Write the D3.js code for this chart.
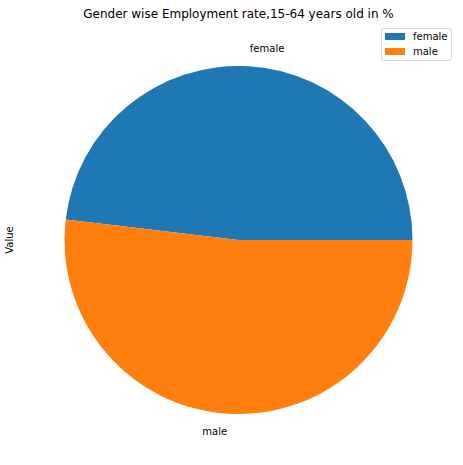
<!DOCTYPE html>
<html><head><meta charset="utf-8">
<script src="https://cdn.jsdelivr.net/npm/d3@7"></script>
<style>body{margin:0;background:#fff;} text{font-family:"DejaVu Sans",sans-serif;fill:#000;}</style>
</head><body>
<svg id="c" width="463" height="465"></svg>
<script>
const categories = ["female", "male"];
const values = [62.4, 67.3];
const colors = ["#1f77b4", "#ff7f0e"];
const title = "Gender wise Employment rate,15-64 years old in %";
const yLabel = "Value";

const svg = d3.select("#c");
const cx = 238.5, cy = 240, r = 174;
const data = categories.map((c, i) => ({cat: c, val: values[i], color: colors[i]}));

const pie = d3.pie().value(d => d.val).sort(null)
  .startAngle(Math.PI / 2).endAngle(Math.PI / 2 - 2 * Math.PI);
const arcs = pie(data);
const arc = d3.arc().innerRadius(0).outerRadius(r);
const g = svg.append("g").attr("transform", `translate(${cx},${cy})`);
g.selectAll("path").data(arcs).join("path").attr("d", arc).attr("fill", d => d.data.color);

const labelArc = d3.arc().innerRadius(r * 1.1).outerRadius(r * 1.1);
g.selectAll("text.lbl").data(arcs).join("text").attr("class", "lbl")
  .attr("x", d => { const a = (d.startAngle + d.endAngle) / 2; return 1.1 * r * Math.sin(a); })
  .attr("y", d => { const a = (d.startAngle + d.endAngle) / 2; return -1.1 * r * Math.cos(a); })
  .attr("dy", "0.35em")
  .attr("text-anchor", d => { const a = (d.startAngle + d.endAngle) / 2; return Math.sin(a) >= 0 ? "start" : "end"; })
  .attr("font-size", 10).text(d => d.data.cat);

svg.append("text").attr("x", 238.5).attr("y", 18).attr("text-anchor", "middle")
  .attr("font-size", 12).text(title);

svg.append("text").attr("transform", "translate(13,240) rotate(-90)")
  .attr("text-anchor", "middle").attr("font-size", 10).text(yLabel);

const lg = svg.append("g").attr("transform", "translate(381,28)");
lg.append("rect").attr("x", 0.5).attr("y", 0.5).attr("width", 70).attr("height", 32)
  .attr("rx", 2).attr("fill", "#fff").attr("stroke", "#d9d9d9");
categories.forEach((c, i) => {
  lg.append("rect").attr("x", 4).attr("y", 5 + i * 15).attr("width", 20).attr("height", 7).attr("fill", colors[i]);
  lg.append("text").attr("x", 32).attr("y", 8.5 + i * 15).attr("dy", "0.35em").attr("font-size", 10).text(c);
});
</script>
</body></html>
